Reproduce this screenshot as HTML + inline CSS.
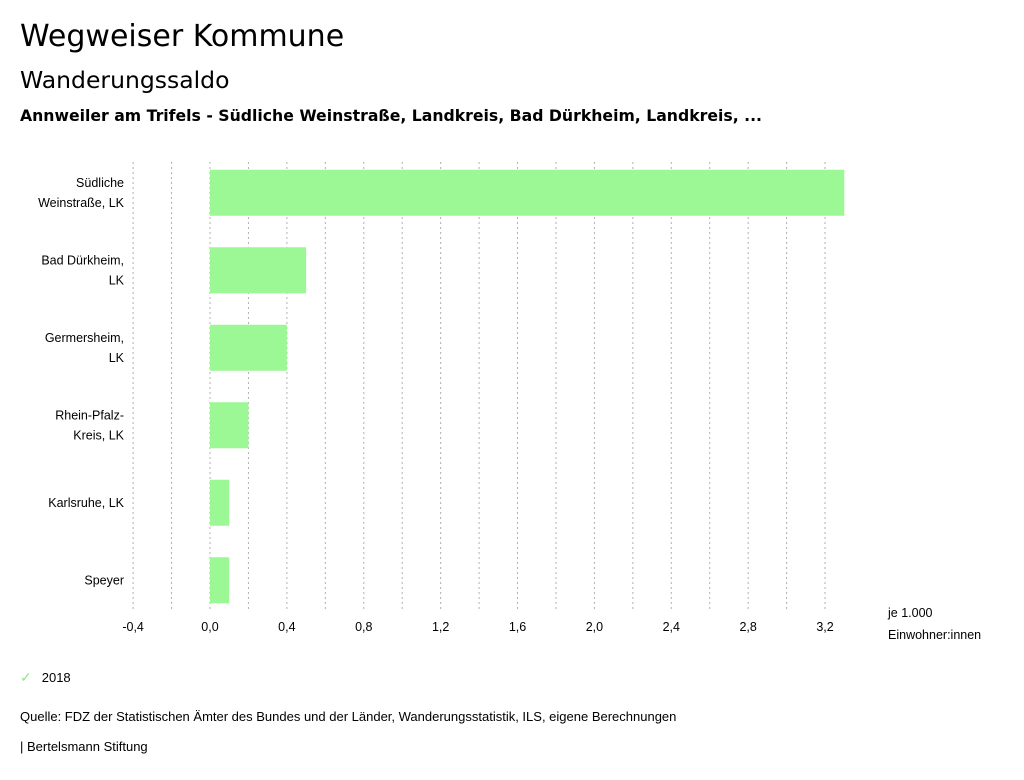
<!DOCTYPE html>
<html><head><meta charset="utf-8"><style>
body{margin:0;background:#fff;font-family:"Liberation Sans",sans-serif;color:#000;}
#wrap{position:relative;width:1024px;height:780px;overflow:hidden;}
.t{position:absolute;white-space:nowrap;}
.d{font-family:"DejaVu Sans",sans-serif;}
</style></head><body>
<div id="wrap">
<div class="t d" style="left:20px;top:19px;font-size:30px;">Wegweiser Kommune</div>
<div class="t d" style="left:20px;top:66px;font-size:23.5px;">Wanderungssaldo</div>
<div class="t d" style="left:20px;top:106px;font-size:15.7px;font-weight:bold;">Annweiler am Trifels - Südliche Weinstraße, Landkreis, Bad Dürkheim, Landkreis, ...</div>
<svg id="chart" width="1024" height="780" style="position:absolute;left:0;top:0"></svg>
<div class="t" style="left:20px;top:669px;font-size:13px;"><span style="color:#8fe88f;font-size:14px;margin-right:10px">✓</span>2018</div>
<div class="t" style="left:20px;top:709px;font-size:13px;">Quelle: FDZ der Statistischen Ämter des Bundes und der Länder, Wanderungsstatistik, ILS, eigene Berechnungen</div>
<div class="t" style="left:20px;top:739px;font-size:13px;">| Bertelsmann Stiftung</div>
</div>
<script>
const categories=[["Südliche","Weinstraße, LK"],["Bad Dürkheim,","LK"],["Germersheim,","LK"],["Rhein-Pfalz-","Kreis, LK"],["Karlsruhe, LK"],["Speyer"]];
const values2018=[3.3,0.5,0.4,0.2,0.1,0.1];
const tickValues=[-0.4,0,0.4,0.8,1.2,1.6,2.0,2.4,2.8,3.2];
const tickLabels=["-0,4","0,0","0,4","0,8","1,2","1,6","2,0","2,4","2,8","3,2"];
const NS="http://www.w3.org/2000/svg";
const svg=document.getElementById('chart');
const x=v=>210+v*192.2;
const top0=162,rowH=77.5;
const y=i=>top0+i*rowH;
function mk(t,a){const e=document.createElementNS(NS,t);for(const k in a)e.setAttribute(k,a[k]);svg.appendChild(e);return e;}
for(let v=-0.4;v<=3.21;v+=0.2){
 const l=mk('line',{x1:x(v),x2:x(v),y1:162,y2:610,stroke:'#b0b0b0','stroke-dasharray':'2,3','stroke-width':1});
 
 
}
tickValues.forEach((v,i)=>{
 const t=mk('text',{x:x(v),y:631,'text-anchor':'middle','font-size':12.5,'font-family':'Liberation Sans, sans-serif'});
 t.textContent=tickLabels[i];
 
 
});
values2018.forEach((v,i)=>{
 const cy=y(i)+rowH/2-8;
 const r=mk('rect',{x:Math.min(x(0),x(v)),y:cy-23,width:Math.abs(x(v)-x(0)),height:46,fill:'#9cf894'});
 
 
 const lines=categories[i];
 lines.forEach((s,j)=>{
  const t=mk('text',{x:124,y:cy+4+(j-(lines.length-1)/2)*20,'text-anchor':'end','font-size':12.5,'font-family':'Liberation Sans, sans-serif'});
  t.textContent=s;
  
  
 });
});
[["je 1.000",617],["Einwohner:innen",639]].forEach(([s,yy])=>{
 const t=mk('text',{x:888,y:yy,'font-size':12.5,'font-family':'Liberation Sans, sans-serif'});
 t.textContent=s;
 
 
});
</script>
</body></html>
